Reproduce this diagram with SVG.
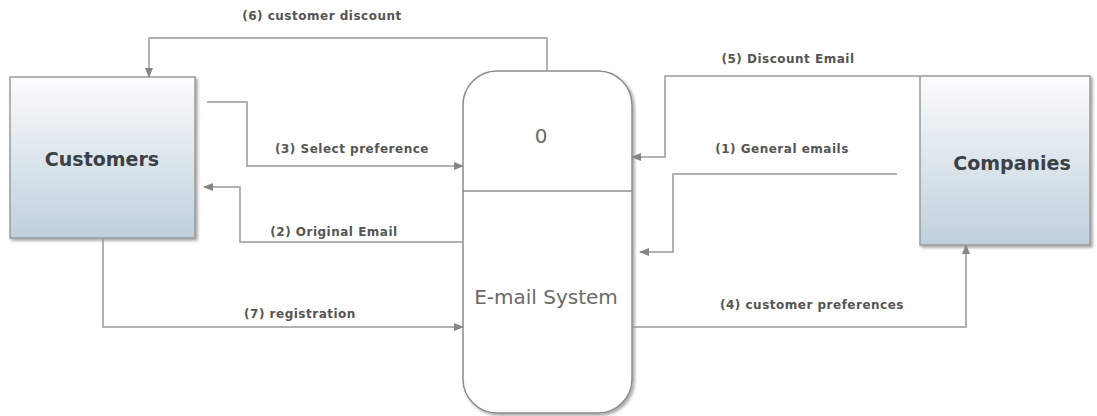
<svg xmlns="http://www.w3.org/2000/svg" width="1097" height="416" viewBox="0 0 1097 416">
<defs>
<linearGradient id="g" x1="0" y1="0" x2="0" y2="1">
<stop offset="0" stop-color="#fbfcfd"/>
<stop offset="1" stop-color="#bfd0dc"/>
</linearGradient>
<filter id="sh" x="-10%" y="-10%" width="130%" height="130%">
<feDropShadow dx="2" dy="2" stdDeviation="1.5" flood-color="#000" flood-opacity="0.35"/>
</filter>
<marker id="ah" markerWidth="10" markerHeight="8" refX="9" refY="4" orient="auto" markerUnits="userSpaceOnUse">
<path d="M0,0 L10,4 L0,8 Z" fill="#858585"/>
</marker>
<style>
.ent{fill:url(#g);stroke:#9a9a9a;stroke-width:1.5;filter:url(#sh)}
.proc{fill:#fff;stroke:#8c8c8c;stroke-width:1.5;filter:url(#sh)}
.en{font-family:"DejaVu Sans",Verdana,sans-serif;font-weight:bold;font-size:19px;fill:#3c4146;text-anchor:middle}
.pt{font-family:"DejaVu Sans",Verdana,sans-serif;font-size:20px;fill:#6a6a6a;text-anchor:middle}
.lbl{font-family:"DejaVu Sans",Verdana,sans-serif;font-weight:bold;font-size:12px;letter-spacing:0.5px;fill:#555;text-anchor:middle}
.c{fill:none;stroke:#999;stroke-width:1.5}
.a{marker-end:url(#ah)}
</style>
</defs>
<rect width="1097" height="416" fill="#fff"/>
<g id="customers">
<rect class="ent" x="10" y="77" width="185" height="161"/>
<text class="en" x="102" y="166">Customers</text>
</g>
<g id="companies">
<rect class="ent" x="920" y="76" width="170" height="169"/>
<text class="en" x="1012" y="170">Companies</text>
</g>
<g id="email-system">
<rect class="proc" x="463" y="71" width="169" height="342" rx="34" ry="34"/>
<line x1="463" y1="191" x2="632" y2="191" stroke="#8c8c8c" stroke-width="1.5"/>
<text class="pt" x="541" y="143">0</text>
<text class="pt" x="546" y="304">E-mail System</text>
</g>
<g id="connectors">
<path class="c a" d="M547,71 V38 H149 V77"/>
<path class="c a" d="M207,102 H247 V166 H463"/>
<path class="c a" d="M463,242 H240 V187 H204"/>
<path class="c a" d="M103,238 V327 H463"/>
<path class="c a" d="M920,76 H665 V157 H632"/>
<path class="c a" d="M897,174 H673 V252 H640"/>
<path class="c a" d="M632,327 H966 V245"/>
<text class="lbl" x="322" y="20">(6) customer discount</text>
<text class="lbl" x="352" y="153">(3) Select preference</text>
<text class="lbl" x="334" y="236">(2) Original Email</text>
<text class="lbl" x="300" y="318">(7) registration</text>
<text class="lbl" x="788" y="63">(5) Discount Email</text>
<text class="lbl" x="782" y="153">(1) General emails</text>
<text class="lbl" x="812" y="309">(4) customer preferences</text>
</g>
</svg>
